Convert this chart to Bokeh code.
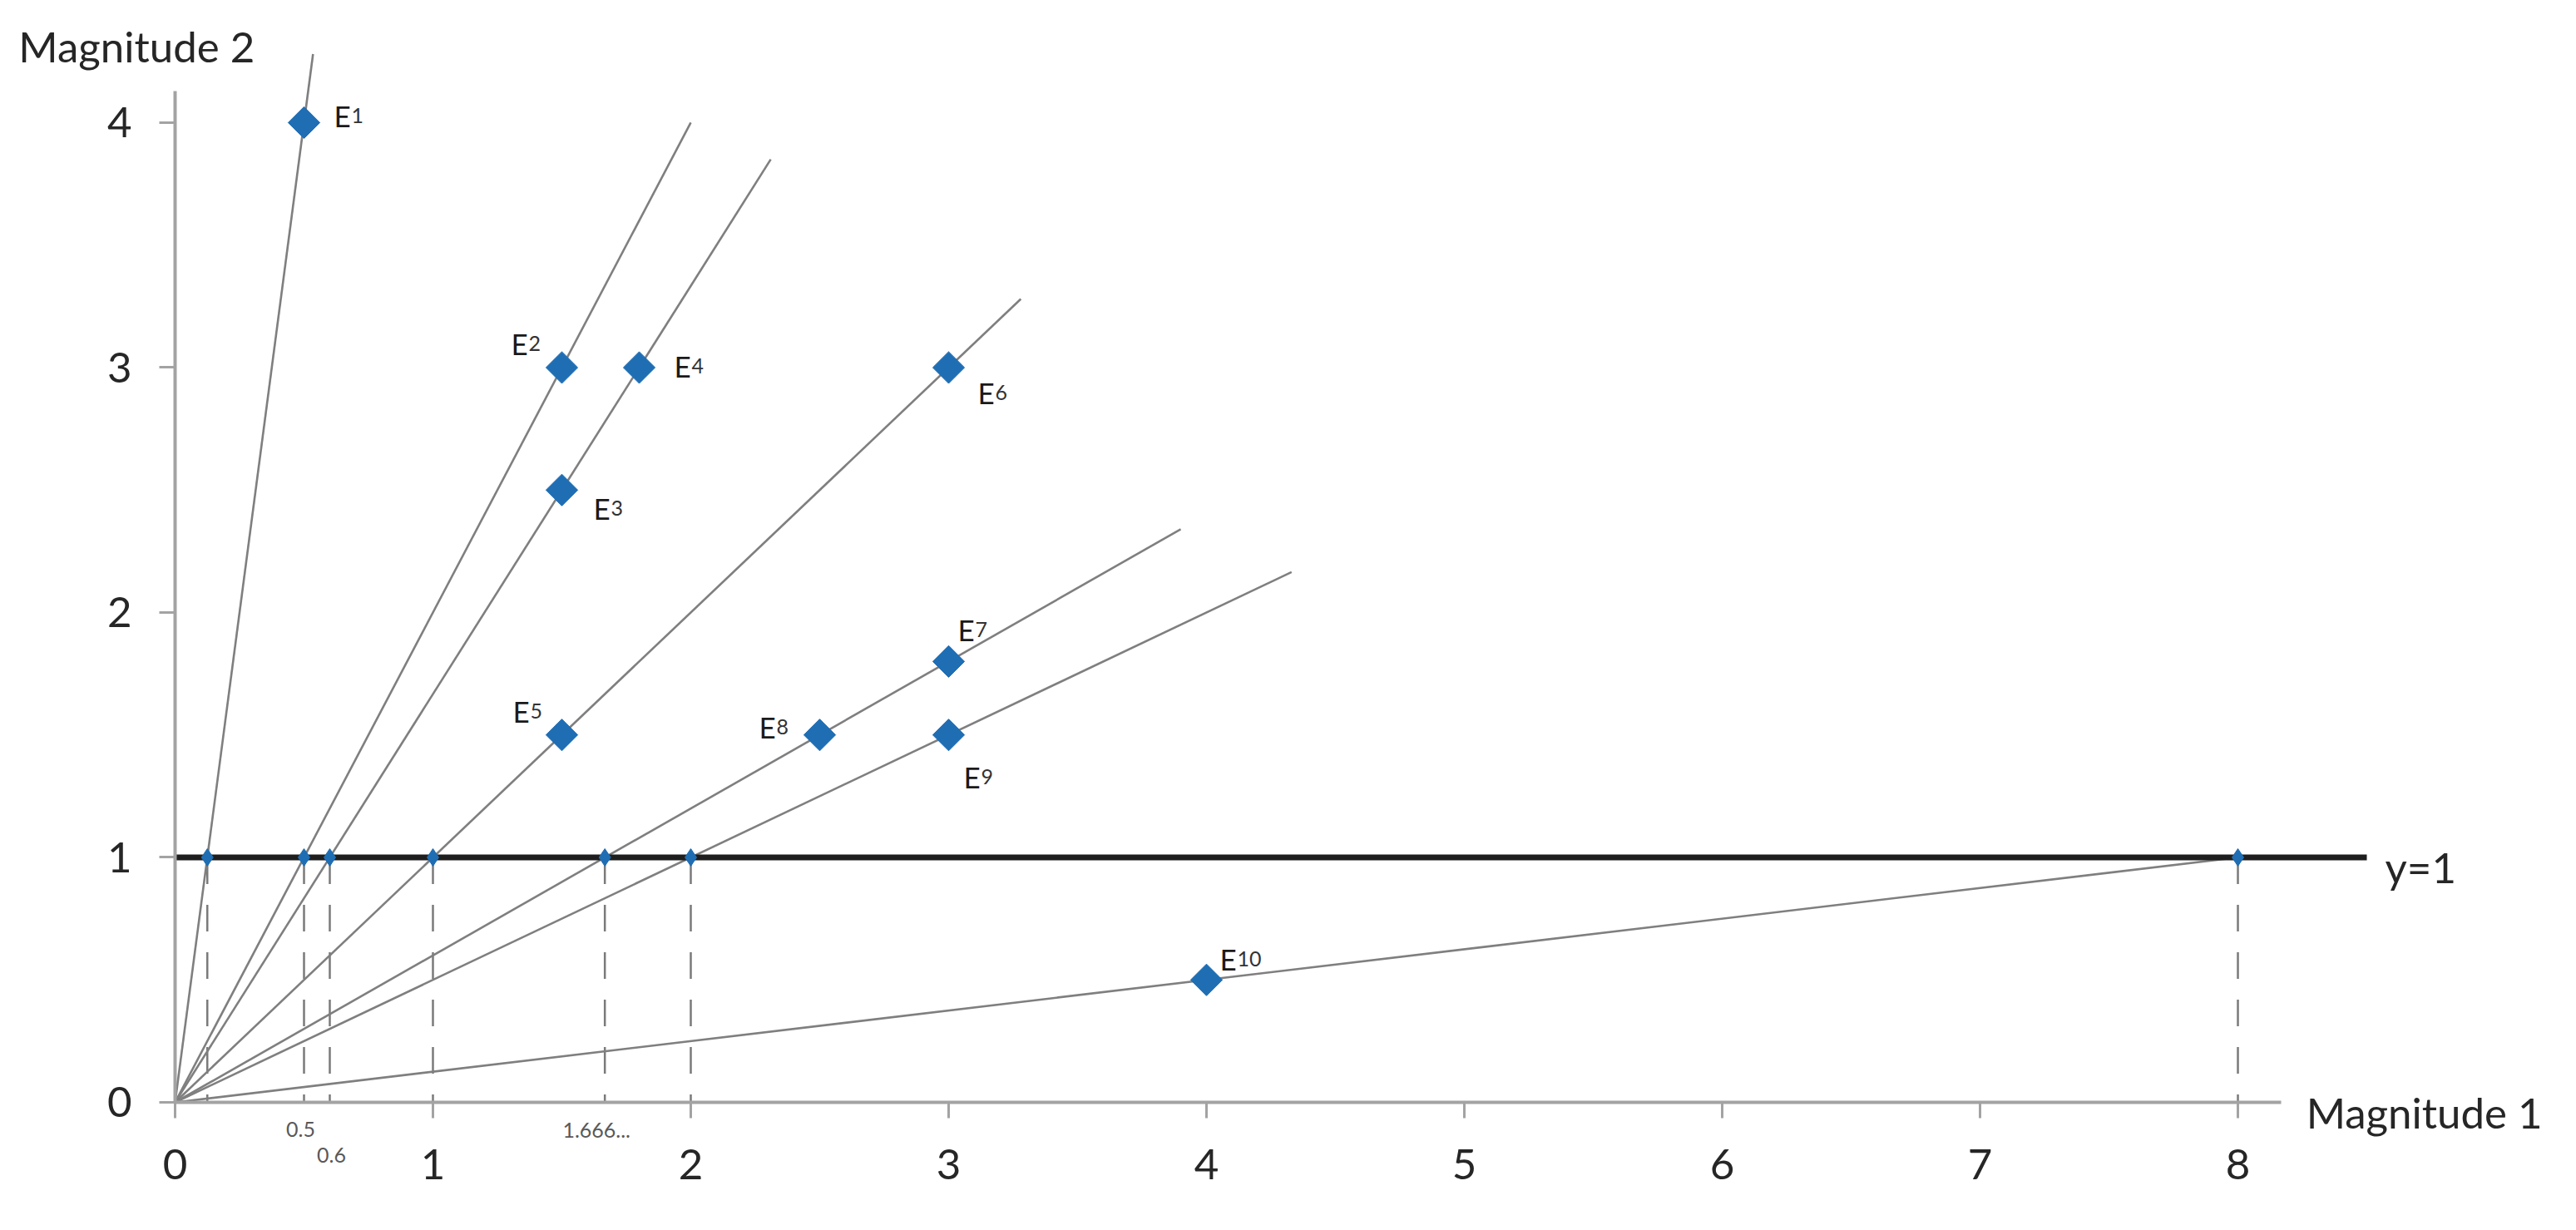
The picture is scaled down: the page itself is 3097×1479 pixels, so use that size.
from bokeh.plotting import figure
from bokeh.models import ColumnDataSource, FixedTicker
from bokeh.core.properties import value
from bokeh.embed import file_html
from bokeh.resources import INLINE
import math

# ---------------- data ----------------
e_index = ["1", "2", "3", "4", "5", "6", "7", "8", "9", "10"]
e_x = [0.5, 1.5, 1.5, 1.8, 1.5, 3.0, 3.0, 2.5, 3.0, 4.0]
e_y = [4.0, 3.0, 2.5, 3.0, 1.5, 3.0, 1.8, 1.5, 1.5, 0.5]

# rays from the origin: a point each ray passes through, and where it stops
ray_pass_x = [0.5, 1.5, 1.8, 3.0, 3.0, 3.0, 4.0]
ray_pass_y = [4.0, 3.0, 3.0, 3.0, 1.8, 1.5, 0.5]
ray_end_x = [0.535, 2.0, 2.31, 3.28, 3.9, 4.33, 8.0]

# where the rays cross y = 1
cross_x = [0.125, 0.5, 0.6, 1.0, 1.6667, 2.0, 8.0]
cross_y = [1.0, 1.0, 1.0, 1.0, 1.0, 1.0, 1.0]

x_ticks = [0, 1, 2, 3, 4, 5, 6, 7, 8]
y_ticks = [0, 1, 2, 3, 4]

small_labels = ["0.5", "0.6", "1.666..."]
small_label_x = [0.5, 0.6, 1.6667]

# ---------------- styles / layout ----------------
W, H = 3080, 1462
BLUE = "#1f6eb4"
FONT = "Lato"
TXT = "#262626"

ray_end_y = [ex * py / px for ex, px, py in zip(ray_end_x, ray_pass_x, ray_pass_y)]

p = figure(width=W, height=H, x_range=(-0.6774, 9.258), y_range=(-0.4652, 4.499),
           output_backend="svg", toolbar_location=None,
           min_border_left=0, min_border_bottom=0,
           min_border_top=0, min_border_right=0)
p.outline_line_color = None
p.xgrid.visible = False
p.ygrid.visible = False
p.background_fill_color = "white"
p.border_fill_color = "white"

for ax, ticks, bnd in ((p.xaxis[0], x_ticks, (0, 8.168)), (p.yaxis[0], y_ticks, (0, 4.13))):
    ax.fixed_location = 0
    ax.ticker = FixedTicker(ticks=ticks)
    ax.bounds = bnd
    ax.axis_line_color = "#a3a3a3"
    ax.axis_line_width = 4
    ax.major_tick_line_color = "#a3a3a3"
    ax.major_tick_line_width = 3
    ax.major_tick_out = 19
    ax.major_tick_in = 0
    ax.minor_tick_line_color = None
    ax.major_label_text_font = FONT
    ax.major_label_text_font_size = "51px"
    ax.major_label_text_color = TXT
p.xaxis.major_label_standoff = 38
p.yaxis.major_label_standoff = 33

# dashed drops from y=1 to the x axis
p.segment(x0=cross_x, y0=cross_y, x1=cross_x, y1=[0] * len(cross_x),
          line_color="#7a7a7a", line_width=2.5, line_dash="32 25")

# rays
p.segment(x0=[0] * len(ray_end_x), y0=[0] * len(ray_end_x), x1=ray_end_x, y1=ray_end_y,
          line_color="#7f7f7f", line_width=2.6)

# y = 1 line
p.segment(x0=[0], y0=[1], x1=[8.5], y1=[1], line_color="#1e1e1e", line_width=7)

# small points on y = 1
p.scatter(x=cross_x, y=cross_y, marker="diamond", size=21, fill_color=BLUE, line_color=BLUE)

# E points
src = ColumnDataSource(dict(x=e_x, y=e_y, idx=e_index))
p.scatter(x="x", y="y", source=src, marker="square", angle=math.pi / 4, size=27,
          fill_color=BLUE, line_color=BLUE)

# E labels: offsets (px) of the label from the marker
lab_dx = [36, -61, 38, 42, -59, 35, 11, -73, 18, 16]
lab_dy = [-8, -29, 22, -2, -29, 30, -38, -10, 50, -25]
src.data["dx"] = lab_dx
src.data["dy"] = lab_dy
src.data["dx2"] = [d + 21 for d in lab_dx]
p.text(x="x", y="y", text=value("E"), source=src, x_offset="dx", y_offset="dy",
       text_font=value(FONT), text_font_size="35px", text_color="#1a1a1a",
       text_align="left", text_baseline="alphabetic")
p.text(x="x", y="y", text="idx", source=src, x_offset="dx2", y_offset="dy",
       text_font=value(FONT), text_font_size="25px", text_color="#333333",
       text_align="left", text_baseline="alphabetic")

# small labels below the axis
ssrc = ColumnDataSource(dict(x=small_label_x, y=[-0.112, -0.214, -0.115], t=small_labels,
                             dx=[-4, 2, -10]))
p.text(x="x", y="y", text="t", source=ssrc, x_offset="dx",
       text_font=value(FONT), text_font_size="25px", text_color="#595959",
       text_align="center", text_baseline="middle")

# axis titles and y=1 label
tsrc = ColumnDataSource(dict(x=[-0.607, 8.265, 8.571], y=[4.312, -0.041, 0.961],
                             t=["Magnitude 2", "Magnitude 1", "y=1"]))
p.text(x="x", y="y", text="t", source=tsrc,
       text_font=value(FONT), text_font_size="51px", text_color=TXT,
       text_align="left", text_baseline="alphabetic")

open("out.html", "w").write(file_html(p, INLINE))
